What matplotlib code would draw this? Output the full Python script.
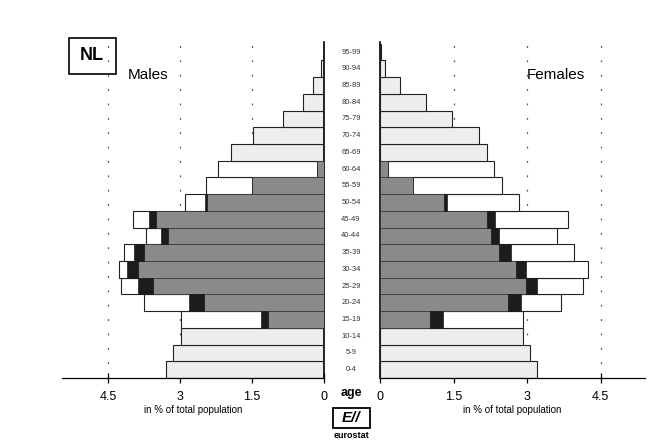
import matplotlib
matplotlib.use("Agg")
import matplotlib.pyplot as plt
from matplotlib.patches import Rectangle
from matplotlib.transforms import blended_transform_factory
import numpy as np

plt.rcParams['font.family'] = ['Liberation Sans', 'DejaVu Sans']

ages = ['0-4', '5-9', '10-14', '15-19', '20-24', '25-29', '30-34', '35-39', '40-44', '45-49',
        '50-54', '55-59', '60-64', '65-69', '70-74', '75-79', '80-84', '85-89', '90-94', '95-99']

male_total = [3.29, 3.15, 2.98, 2.98, 3.75, 4.23, 4.27, 4.17, 3.70, 3.98,
              2.90, 2.46, 2.21, 1.94, 1.48, 0.85, 0.44, 0.23, 0.06, 0.01]
male_employed = [0, 0, 0, 1.17, 2.50, 3.56, 3.87, 3.75, 3.25, 3.50,
                 2.44, 1.50, 0.15, 0, 0, 0, 0, 0, 0, 0]
male_unemployed = [0, 0, 0, 0.15, 0.31, 0.31, 0.23, 0.21, 0.15, 0.15,
                   0.03, 0, 0, 0, 0, 0, 0, 0, 0, 0]

female_total = [3.20, 3.07, 2.91, 2.91, 3.70, 4.14, 4.24, 3.95, 3.62, 3.84,
                2.84, 2.48, 2.33, 2.19, 2.03, 1.47, 0.94, 0.40, 0.10, 0.02]
female_employed = [0, 0, 0, 1.03, 2.61, 2.98, 2.77, 2.43, 2.26, 2.19,
                   1.30, 0.68, 0.17, 0, 0, 0, 0, 0, 0, 0]
female_unemployed = [0, 0, 0, 0.25, 0.26, 0.23, 0.20, 0.24, 0.17, 0.15,
                     0.07, 0, 0, 0, 0, 0, 0, 0, 0, 0]

tick_vals = [0, 1.5, 3, 4.5]
tick_labels = ['0', '1.5', '3', '4.5']

W, H = 660, 443
fig = plt.figure(figsize=(6.6, 4.43), dpi=100)
fig.patch.set_facecolor('white')

def fx(px):
    return px / W

def fy(py):
    return 1 - py / H

y_top, y_bot = 42, 378
axL = fig.add_axes([fx(62), fy(y_bot), fx(324) - fx(62), fy(y_top) - fy(y_bot)])
axR = fig.add_axes([fx(380), fy(y_bot), fx(645) - fx(380), fy(y_top) - fy(y_bot)])

y = np.arange(len(ages))
light = '#eeeeee'
gray = '#8a8a8a'
dark = '#1c1c1c'

def draw(ax, total, emp, unemp):
    base_cols = [light if (i < 3 or i > 12) else 'white' for i in range(len(total))]
    ax.barh(y, total, height=1.0, color=base_cols, edgecolor='#222222', linewidth=0.8, zorder=2)
    ax.barh(y, emp, height=1.0, color=gray, edgecolor='#333333', linewidth=0.5, zorder=3)
    ax.barh(y, unemp, left=emp, height=1.0, color=dark, edgecolor=dark, linewidth=0.5, zorder=3)
    for v in tick_vals[1:]:
        ax.axvline(v, color='#555555', linestyle=(0, (1.5, 10)), linewidth=0.9, zorder=1)
    ax.set_ylim(-0.5, 19.6)
    ax.set_yticks([])
    ax.set_xticks(tick_vals)
    ax.set_xticklabels(tick_labels, fontsize=9)
    ax.tick_params(axis='x', direction='inout', length=7, width=0.9, pad=6)
    ax.set_xlabel('in % of total population', fontsize=7, labelpad=1)
    for s in ['top']:
        ax.spines[s].set_visible(False)
    ax.spines['bottom'].set_linewidth(0.9)

draw(axL, male_total, male_employed, male_unemployed)
draw(axR, female_total, female_employed, female_unemployed)

axL.set_xlim((324 - 62) / 48.0, 0)
axL.spines['left'].set_visible(False)
axL.spines['right'].set_linewidth(1.2)
axR.set_xlim(0, (645 - 380) / 49.0)
axR.spines['right'].set_visible(False)
axR.spines['left'].set_linewidth(1.2)

# age labels in the centre column
tr = blended_transform_factory(fig.transFigure, axL.transData)
for i, a in enumerate(ages):
    fig.text(fx(351), i, a, transform=tr, ha='center', va='center', fontsize=5.5, color='#333333')

fig.text(fx(351), fy(393), 'age', ha='center', va='center', fontsize=9, fontweight='bold')

# NL box
fig.patches.append(Rectangle((fx(69), fy(74)), fx(116) - fx(69), fy(38) - fy(74),
                             transform=fig.transFigure, fill=False, edgecolor='black', linewidth=1.2))
fig.text(fx(92), fy(56), 'NL', ha='center', va='center', fontsize=13, fontweight='bold')
fig.text(fx(128), fy(75), 'Males', ha='left', va='center', fontsize=11)
fig.text(fx(527), fy(75), 'Females', ha='left', va='center', fontsize=11)

# eurostat logo
fig.patches.append(Rectangle((fx(333), fy(428)), fx(370) - fx(333), fy(408) - fy(428),
                             transform=fig.transFigure, fill=False, edgecolor='black', linewidth=1.3))
fig.text(fx(351.5), fy(418), 'E//', ha='center', va='center', fontsize=11, fontweight='bold', style='italic')
fig.text(fx(351.5), fy(436), 'eurostat', ha='center', va='center', fontsize=6.5, fontweight='bold')

fig.savefig('out.png', dpi=100)
